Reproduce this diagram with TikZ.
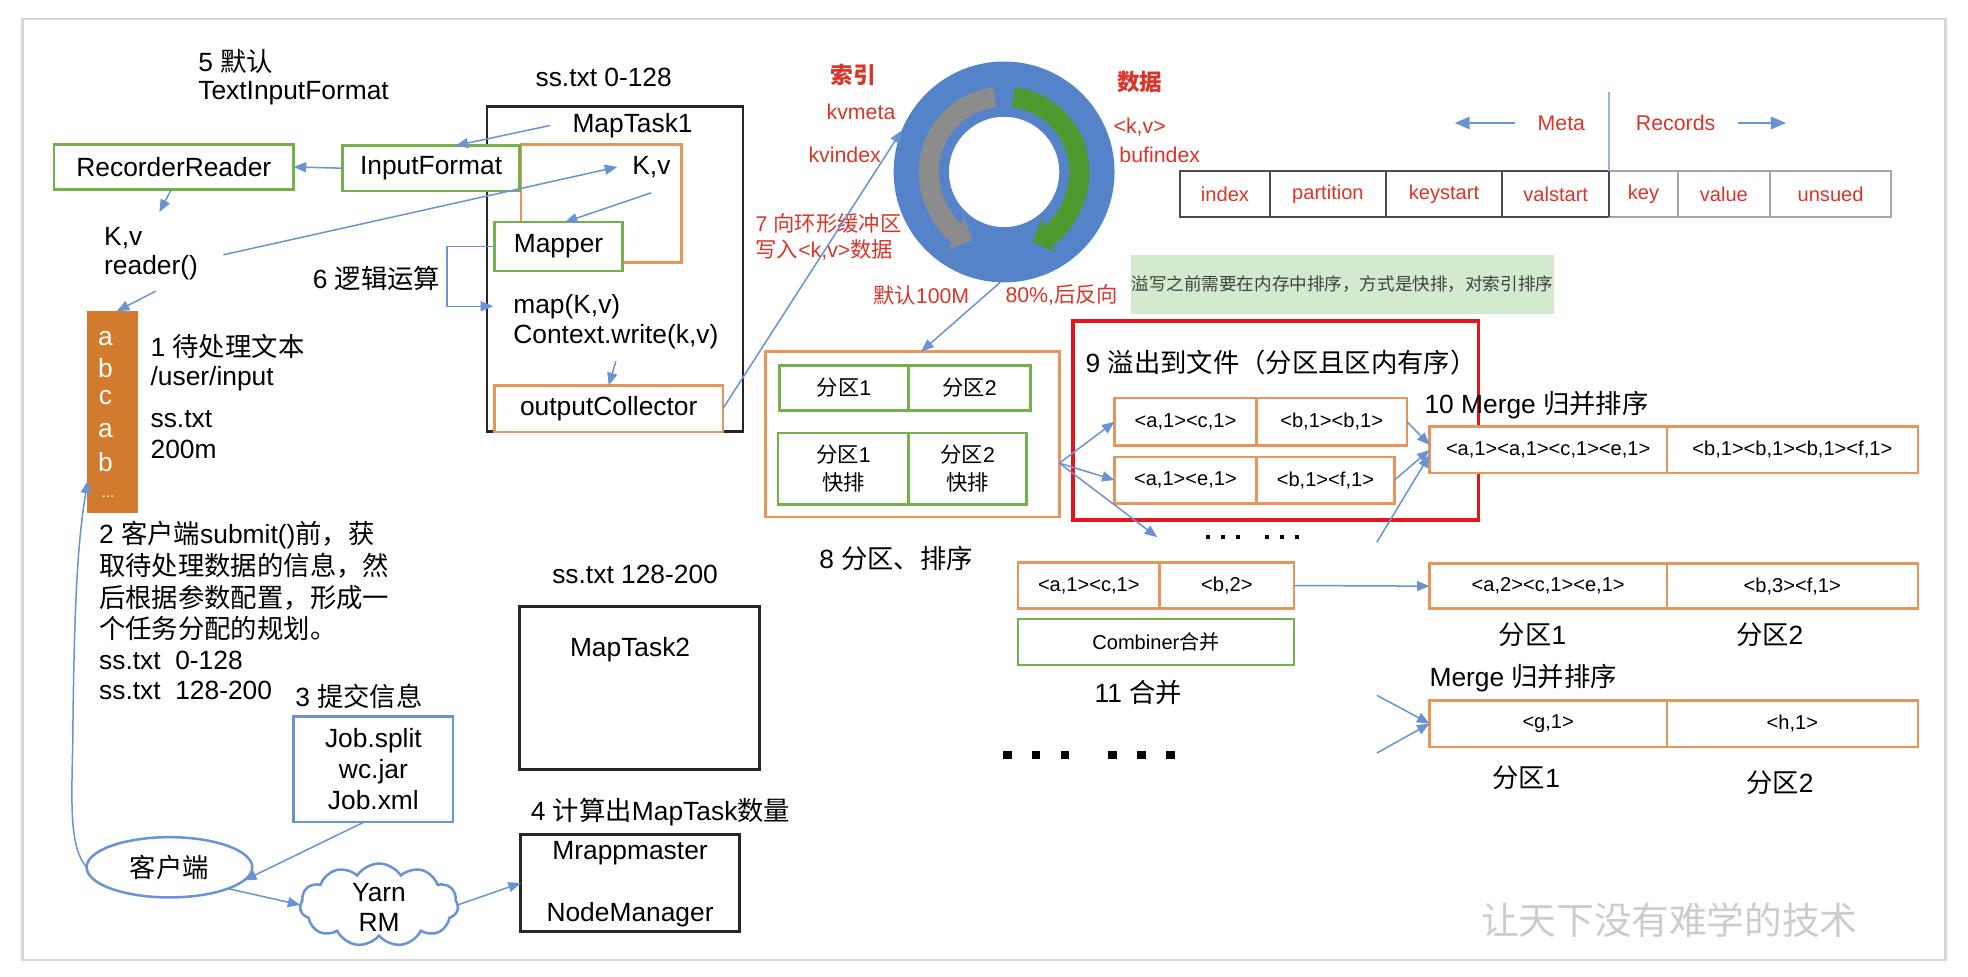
\documentclass[tikz,border=0pt]{standalone}
\usepackage{fontspec}
\setmainfont{Liberation Sans}
\newfontfamily\cjkfont{Noto Sans CJK SC}
\XeTeXinterchartokenstate=1
\newXeTeXintercharclass\cjkclass
\makeatletter
\def\setcjkrange#1#2{\count@=#1\relax
  \loop\ifnum\count@<#2\relax\XeTeXcharclass\count@=\cjkclass\advance\count@ by 1\repeat}
\makeatother
\setcjkrange{"3000}{"3040}
\setcjkrange{"3400}{"4DC0}
\setcjkrange{"4E00}{"A000}
\setcjkrange{"FF00}{"FFF0}
\XeTeXinterchartoks 0 \cjkclass = {\begingroup\cjkfont}
\XeTeXinterchartoks 4095 \cjkclass = {\begingroup\cjkfont}
\XeTeXinterchartoks \cjkclass 0 = {\endgroup}
\XeTeXinterchartoks \cjkclass 4095 = {\endgroup}
\usetikzlibrary{arrows.meta,shapes.geometric,shapes.symbols,calc}
\definecolor{ablue}{HTML}{6A93D4}
\definecolor{gborder}{HTML}{74B04C}
\definecolor{oborder}{HTML}{E8955A}
\definecolor{ringblue}{HTML}{5483CA}
\definecolor{rtext}{HTML}{D9352B}
\definecolor{ofill}{HTML}{D27A2E}
\definecolor{notefill}{HTML}{D3EACF}
\definecolor{framegray}{HTML}{D8D8D8}
\definecolor{redbox}{HTML}{E8141C}
\definecolor{ringgray}{HTML}{8C8C8C}
\definecolor{ringgreen}{HTML}{4E9A2E}
\newcommand\sq[1]{\rule{#1}{#1}}
\begin{document}
\begin{tikzpicture}[x=0.5pt,y=-0.5pt,
  font=\fontsize{10.5}{12.6}\selectfont,
  t/.style={inner sep=0pt,outer sep=0pt},
  lt/.style={t,anchor=west},
  bx/.style={draw,inner sep=0pt,outer sep=0pt,fill=white},
  gbox/.style={bx,draw=gborder,line width=1pt},
  obox/.style={bx,draw=oborder,line width=1pt},
  kbox/.style={bx,draw=black!85,line width=1.1pt},
  arr/.style={draw=ablue,line width=0.6pt,-{Triangle[length=5pt,width=4pt]}},
  rt/.style={t,text=rtext,font=\fontsize{8.5}{10}\selectfont},
  rtb/.style={t,text=rtext,font=\bfseries\fontsize{9}{10}\selectfont},
  sm/.style={font=\fontsize{8}{9}\selectfont},
  pt/.style={font=\fontsize{8.5}{11}\selectfont,align=center},
  tc/.style={bx,draw=black!70,line width=0.8pt,text=rtext,font=\fontsize{8}{9}\selectfont,minimum height=18.5pt,anchor=west},
  tl/.style={tc,draw=black!35},
]
\useasboundingbox (0,0) rectangle (1568,778);
\fill[white] (0,0) rectangle (1568,778);
\draw[framegray,line width=1pt] (18,15) rectangle (1550,765);

% ---------- left part ----------
\node[lt] (t5) at (158,49) {5 默认};
\node[lt] (tif) at (158,74) {TextInputFormat};
\node[t] (ss1) at (481,62) {ss.txt 0-128};
\node[kbox,fill=none,minimum width=102pt,minimum height=129.5pt] (mt1) at (490,214.5) {};
\node[obox,fill=none,minimum width=64pt,minimum height=47pt] (ob) at (479,162) {};
\node[gbox,minimum width=95.5pt,minimum height=18pt] (rr) at (138.5,133) {RecorderReader};
\node[gbox,minimum width=70.5pt,minimum height=18pt] (inf) at (343.5,134) {InputFormat};
\node[t] (mtl) at (504,100) {MapTask1};
\node[t] (kv1) at (519,133) {K,v};
\node[gbox,minimum width=51pt,minimum height=19.5pt] (mapper) at (445,196.5) {Mapper};
\node[lt] (mapk) at (409,244) {map(K,v)};
\node[lt] (ctx) at (409,268) {Context.write(k,v)};
\node[obox,minimum width=91pt,minimum height=18.5pt] (oc) at (485,325.5) {outputCollector};
\node[t] (t6) at (300,222) {6 逻辑运算};
\node[lt] (kvr1) at (83,190) {K,v};
\node[lt] (kvr2) at (83,213) {reader()};

\node[t,fill=ofill,minimum width=20.5pt,minimum height=80.5pt] (col) at (89.5,328.5) {};
\foreach \ch/\yy in {a/270,b/293,c/317,a/343,b/368} \node[t,text=white] at (84,\yy) {\ch};
\node[t,text=white,font=\fontsize{6}{7}\selectfont] at (86,396) {...};

\node[lt] (t1) at (120,276) {1 待处理文本};
\node[lt] (t1b) at (120,302) {/user/input};
\node[lt] (t1c) at (120,334) {ss.txt};
\node[lt] (t1d) at (120,358) {200m};

\node[lt] (t2a) at (79,426) {2 客户端submit()前，获};
\node[lt] (t2b) at (79,451) {取待处理数据的信息，然};
\node[lt] (t2c) at (79,476) {后根据参数配置，形成一};
\node[lt] (t2d) at (79,501) {个任务分配的规划。};
\node[lt] (t2e) at (79,526) {ss.txt\ \ 0-128};
\node[lt] (t2f) at (79,550) {ss.txt\ \ 128-200};

\node[t] (t3) at (286,555) {3 提交信息};
\node[bx,draw=ablue,line width=1pt,minimum width=63.5pt,minimum height=42pt,align=center,font=\fontsize{10.5}{12.3}\selectfont] (job) at (297.5,613) {Job.split\\wc.jar\\Job.xml};

\node[ellipse,bx,draw=ablue,line width=1pt,minimum width=66pt,minimum height=24pt] (cl) at (135,691) {客户端};
\node[cloud,draw=ablue,line width=1pt,cloud puffs=11,cloud puff arc=115,aspect=1.9,minimum width=63pt,minimum height=33pt,inner sep=0pt,outer sep=0pt] (cloud) at (302,721) {};
\node[t,align=center,font=\fontsize{10.5}{12}\selectfont] (yarn) at (302,723) {Yarn\\RM};

\node[lt] (t4) at (423,647) {4 计算出MapTask数量};
\node[kbox,minimum width=87pt,minimum height=38.5pt] (mm) at (502,703.5) {};
\node[t] (mma) at (502,680) {Mrappmaster};
\node[t] (mmb) at (502,729) {NodeManager};

\node[t] (ss2) at (506,458) {ss.txt 128-200};
\node[kbox,minimum width=95.5pt,minimum height=65pt] (mt2) at (509.5,548) {};
\node[t] (mt2l) at (502,518) {MapTask2};

% ---------- ring ----------
\node[circle,t,minimum size=88pt] (ring) at (800,137) {};
\fill[ringblue,even odd rule] (ring.center) circle[radius=44pt] (ring.center) circle[radius=22pt];
\draw[ringgray,line width=8pt,-{Triangle[length=7pt,width=14pt]}] ($(ring.center)+(97:30pt)$) arc[start angle=97,end angle=245,radius=30pt];
\draw[ringgreen,line width=8pt,-{Triangle[length=7pt,width=14pt]}] ($(ring.center)+(83:30pt)$) arc[start angle=83,end angle=-68,radius=30pt];

\node[rtb] (lidx) at (680,60) {索引};
\node[rt] (lkvm) at (686,89) {kvmeta};
\node[rt] (lkvi) at (673,123) {kvindex};
\node[rt,anchor=west] (l7a) at (602,178) {7 向环形缓冲区};
\node[rt,anchor=west] (l7b) at (602,199) {写入<k,v>数据};
\node[rt] (l100) at (734,235) {默认100M};
\node[rt] (l80) at (846,235) {80\%,后反向};
\node[rtb] (ldata) at (908,65) {数据};
\node[rt] (lkv) at (908,101) {<k,v>};
\node[rt] (lbuf) at (924,123) {bufindex};

% ---------- meta table ----------
\node[tc,minimum width=36pt] (c1) at (940,154.5) {index};
\node[tc,minimum width=46pt] (c2) at (c1.east) {partition};
\node[tc,minimum width=46.5pt] (c3) at (c2.east) {keystart};
\node[tc,minimum width=42.5pt] (c4) at (c3.east) {valstart};
\node[tl,minimum width=27.5pt] (c5) at (c4.east) {key};
\node[tl,minimum width=36.5pt] (c6) at (c5.east) {value};
\node[tl,minimum width=48.5pt] (c7) at (c6.east) {unsued};
\draw[black!70,line width=0.8pt] (c4.north east) -- (c4.south east);
\coordinate (vtop) at (1282,73);
\draw[ablue!70,line width=0.8pt] (vtop) -- (c5.north west);
\node[t,text=rtext,font=\fontsize{8.5}{10}\selectfont] (meta) at (1244,98) {Meta};
\node[t,text=rtext,font=\fontsize{8.5}{10}\selectfont] (rec) at (1335,98) {Records};
\coordinate (mL) at (1159,98);
\coordinate (rR) at (1423,98);
\draw[arr,-{Triangle[length=6pt,width=5pt]}] ([xshift=-9pt]meta.west) -- (mL);
\draw[arr,-{Triangle[length=6pt,width=5pt]}] ([xshift=9pt]rec.east) -- (rR);

\node[t,fill=notefill,minimum width=168.5pt,minimum height=23.5pt,font=\fontsize{7}{8}\selectfont,text=black!75] (note) at (1069.5,226.5) {溢写之前需要在内存中排序，方式是快排，对索引排序};

% ---------- partition / sort ----------
\node[obox,minimum width=117pt,minimum height=66pt] (pbox) at (727,346) {};
\node[gbox,pt,minimum width=51.5pt,minimum height=18pt] (p11) at (672.5,309) {分区1};
\node[gbox,pt,minimum width=48.5pt,minimum height=18pt] (p12) at (772.5,309) {分区2};
\node[gbox,pt,minimum width=52pt,minimum height=28.5pt] (p21) at (672,373.5) {分区1\\快排};
\node[gbox,pt,minimum width=47pt,minimum height=28.5pt] (p22) at (771,373.5) {分区2\\快排};
\node[t] (t8) at (714,445) {8 分区、排序};

% ---------- spill ----------
\node[draw=redbox,line width=1.5pt,t,minimum width=161.5pt,minimum height=79pt] (hl) at (1016.5,335) {};
\node[lt] (t9) at (865,289) {9 溢出到文件（分区且区内有序）};
\node[obox,sm,minimum width=56.5pt,minimum height=19pt] (s1a) at (944.5,336) {<a,1><c,1>};
\node[obox,sm,minimum width=60pt,minimum height=19pt] (s1b) at (1061,336) {<b,1><b,1>};
\node[obox,sm,minimum width=56.5pt,minimum height=18.5pt] (s2a) at (944.5,382.5) {<a,1><e,1>};
\node[obox,sm,minimum width=55pt,minimum height=18.5pt] (s2b) at (1056,382.5) {<b,1><f,1>};
\node[t] (dots1) at (998,428) {\sq{1.7pt}\hspace{4.3pt}\sq{1.7pt}\hspace{4.3pt}\sq{1.7pt}\hspace{9.8pt}\sq{1.7pt}\hspace{4.3pt}\sq{1.7pt}\hspace{4.3pt}\sq{1.7pt}};

% ---------- merge ----------
\node[lt] (t10) at (1135,323) {10 Merge 归并排序};
\node[obox,sm,minimum width=94.5pt,minimum height=18.5pt] (m1a) at (1233.5,358.5) {<a,1><a,1><c,1><e,1>};
\node[obox,sm,minimum width=100pt,minimum height=18.5pt] (m1b) at (1428,358.5) {<b,1><b,1><b,1><f,1>};
\node[obox,sm,minimum width=94.5pt,minimum height=18pt] (m2a) at (1233.5,467) {<a,2><c,1><e,1>};
\node[obox,sm,minimum width=100pt,minimum height=18pt] (m2b) at (1428,467) {<b,3><f,1>};
\node[t] (q1) at (1221,506) {分区1};
\node[t] (q2) at (1410,506) {分区2};
\node[lt] (tm2) at (1139,540) {Merge 归并排序};
\node[obox,sm,minimum width=94.5pt,minimum height=18.5pt] (m3a) at (1233.5,576.5) {<g,1>};
\node[obox,sm,minimum width=100pt,minimum height=18.5pt] (m3b) at (1428,576.5) {<h,1>};
\node[t] (q3) at (1216,620) {分区1};
\node[t] (q4) at (1418,624) {分区2};

% ---------- combiner ----------
\node[obox,sm,minimum width=56.5pt,minimum height=18.5pt] (cb1) at (867.5,466.5) {<a,1><c,1>};
\node[obox,sm,minimum width=53.5pt,minimum height=18.5pt] (cb2) at (977.5,466.5) {<b,2>};
\node[gbox,sm,minimum width=110pt,minimum height=18.5pt] (comb) at (921,511.5) {Combiner合并};
\node[t] (t11) at (907,552) {11 合并};
\node[t] (dots2) at (867.5,601.5) {\sq{3.4pt}\hspace{8.1pt}\sq{3.4pt}\hspace{8.1pt}\sq{3.4pt}\hspace{15.6pt}\sq{3.4pt}\hspace{8.1pt}\sq{3.4pt}\hspace{8.1pt}\sq{3.4pt}};

\node[t,text=black!20,font=\fontsize{15}{16}\selectfont] (wm) at (1330,733) {让天下没有难学的技术};

% ---------- connectors ----------
\draw[arr] (inf.west) -- (rr.east);
\draw[arr] ([xshift=-9pt]mtl.west) -- ([xshift=9.75pt]inf.north);
\coordinate (rrend) at (127,169);
\draw[arr] ([xshift=-1pt]rr.south) -- (rrend);
\coordinate (rdst) at (178,203);
\draw[arr] (rdst) -- ([xshift=-6pt]kv1.west);
\draw[arr] ([yshift=-6pt]kv1.south) -- ([xshift=2.5pt]mapper.north);
\draw[arr] (mapper.west) -- ++(-38,0) |- ([xshift=-8pt]mapk.west);
\draw[arr] ([yshift=-5pt]ctx.south) -- (oc.north);
\coordinate (rdbot) at (124,232);
\draw[arr] (rdbot) -- ([xshift=1.75pt]col.north);
\draw[arr] (oc.east) -- (ring.158);
\draw[arr] (ring.268) -- ([xshift=3.5pt]pbox.north);
\coordinate (colin) at (70,383);
\draw[arr] (cl.west) .. controls (55,675) and (57,640) .. (58,590) .. controls (59,480) and (62,430) .. (colin);
\draw[arr] ([xshift=-3.75pt]job.south) -- (cl.-10);
\draw[arr] (cl.-20) -- (cloud.west);
\draw[arr] (cloud.east) -- (mm.west);

\coordinate (pe) at (844,369);
\coordinate (dotsin) at (922,428);
\draw[arr] (pe) -- (s1a.west);
\draw[arr] (pe) -- (s2a.west);
\draw[arr] (pe) -- (dotsin);
\draw[arr] (s1b.east) -- ([yshift=2pt]m1a.west);
\draw[arr] (s2b.east) -- (m1a.west);
\coordinate (up1) at (1097,432);
\draw[arr] (up1) -- ([yshift=-2pt]m1a.west);
\draw[arr] (cb2.east) -- (m2a.west);
\coordinate (g1) at (1097,554);
\coordinate (g2) at (1097,600);
\draw[arr] (g1) -- (m3a.west);
\draw[arr] (g2) -- (m3a.west);
\end{tikzpicture}
\end{document}
